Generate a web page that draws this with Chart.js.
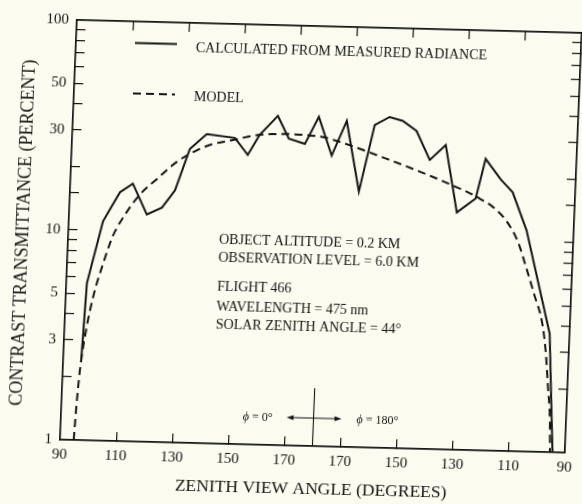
<!DOCTYPE html>
<html>
<head>
<meta charset="utf-8">
<script src="https://cdn.jsdelivr.net/npm/chart.js@4.4.1/dist/chart.umd.min.js"></script>
<style>
html,body{margin:0;padding:0;width:582px;height:504px;overflow:hidden;background:#fbfbef;}
#wrap{position:absolute;left:0;top:0;width:600px;height:520px;transform-origin:0 0;
  transform:matrix(1,0.0257,-0.0402,1,7.93,-7.8);}
canvas{display:block;background:#fbfbef;}
</style>
</head>
<body>
<div id="wrap"><canvas id="c" width="600" height="520"></canvas></div>
<script>
// Horizontal axis position: 0 = 90° (φ = 0°), 90 = 180° (zenith), 180 = 90° (φ = 180°)
const xTickLabels = ['90','110','130','150','170','170','150','130','110','90'];
const yLabelValues = [1, 3, 5, 10, 30, 50, 100];

const measuredPos = [6.4, 7.35, 12.2, 17.8, 22.3, 27.7, 33.0, 37.4, 42.1, 47.9, 58.0, 62.8, 66.8, 73.0, 77.2, 83.0, 87.6, 92.7, 97.6, 102.9, 107.6, 112.8, 117.5, 122.6, 127.7, 133.2, 138.1, 144.6, 147.6, 153.3, 157.7, 163.2, 172.9, 175.6];
const measuredVal = [2.35, 5.6, 11.1, 15.3, 16.9, 12.1, 13.1, 15.9, 25.1, 29.7, 28.7, 23.9, 29.9, 37.0, 28.9, 27.4, 37.0, 24.3, 35.7, 16.5, 34.4, 37.7, 36.3, 32.6, 23.8, 28.2, 13.5, 15.8, 24.5, 19.6, 17.1, 11.3, 3.67, 1.0];

const modelPos = [4.9, 5.3, 6.1, 7.7, 9.7, 12.8, 15.9, 20.6, 24.9, 30.8, 37.6, 42.2, 49.2, 57.3, 65.8, 72.8, 77.5, 82.8, 89.3, 95.4, 102.6, 112.4, 121.8, 129.0, 136.3, 141.3, 146.1, 150.8, 156.0, 160.2, 163.4, 167.0, 169.9, 171.7, 173.0, 174.2, 174.7];
const modelVal = [1.0, 1.39, 2.15, 3.33, 4.78, 6.94, 9.44, 12.4, 15.0, 17.9, 21.7, 23.8, 26.4, 28.0, 29.8, 30.3, 30.4, 30.2, 29.7, 28.3, 26.4, 23.8, 21.5, 19.8, 18.1, 17.0, 15.8, 14.5, 12.4, 10.0, 7.65, 5.53, 4.22, 3.05, 2.08, 1.43, 1.0];

const seriesLabels = ['CALCULATED FROM MEASURED RADIANCE', 'MODEL'];
const infoLines = ['OBJECT ALTITUDE = 0.2 KM', 'OBSERVATION LEVEL = 6.0 KM', 'FLIGHT 466', 'WAVELENGTH = 475 nm', 'SOLAR ZENITH ANGLE = 44°'];
const xTitle = 'ZENITH VIEW ANGLE (DEGREES)';
const yTitle = 'CONTRAST TRANSMITTANCE (PERCENT)';

const INK = '#141414';
const SERIF = '"Liberation Serif", "DejaVu Serif", serif';

const pts = (xs, ys) => xs.map((x, i) => ({x, y: ys[i]}));

const axisCommon = {
  border: {display: true, color: INK, width: 1.7},
  grid: {drawOnChartArea: false, drawTicks: true, tickLength: -9, color: INK, lineWidth: 1.2}
};

const annot = {
  id: 'annot',
  afterDraw(chart) {
    const ctx = chart.ctx;
    const xs = chart.scales.x;
    const ds = chart.data.datasets;
    ctx.save();
    ctx.strokeStyle = INK; ctx.fillStyle = INK; ctx.lineWidth = 2;
    // legend samples
    ctx.beginPath(); ctx.moveTo(129, 47.5); ctx.lineTo(171, 47.5); ctx.stroke();
    ctx.setLineDash([8, 5]);
    ctx.beginPath(); ctx.moveTo(129, 98); ctx.lineTo(171, 98); ctx.stroke();
    ctx.setLineDash([]);
    ctx.font = '14px ' + SERIF; ctx.textBaseline = 'middle'; ctx.textAlign = 'left';
    ctx.fillText(ds[0].label, 190, 51);
    ctx.fillText(ds[1].label, 190, 100);
    // info block
    const infoY = [242, 260, 289.5, 309, 327];
    infoLines.forEach((t, i) => ctx.fillText(t, 221, infoY[i]));
    // y-axis title
    ctx.save();
    ctx.translate(25, 240);
    ctx.rotate(-Math.PI / 2);
    ctx.textAlign = 'center';
    ctx.font = '18px ' + SERIF;
    ctx.fillText(yTitle, 0, 0);
    ctx.restore();
    // crosshair at zenith (180°)
    const cx = xs.getPixelForValue(90);
    const bottom = chart.chartArea.bottom;
    ctx.lineWidth = 1.1;
    ctx.beginPath(); ctx.moveTo(cx, 388); ctx.lineTo(cx, bottom); ctx.stroke();
    const hy = 418, hl = cx - 27, hr = cx + 28;
    ctx.beginPath(); ctx.moveTo(hl + 4, hy); ctx.lineTo(hr - 4, hy); ctx.stroke();
    ctx.beginPath(); ctx.moveTo(hl, hy); ctx.lineTo(hl + 7, hy - 2.5); ctx.lineTo(hl + 7, hy + 2.5); ctx.closePath(); ctx.fill();
    ctx.beginPath(); ctx.moveTo(hr, hy); ctx.lineTo(hr - 7, hy - 2.5); ctx.lineTo(hr - 7, hy + 2.5); ctx.closePath(); ctx.fill();
    // phi labels
    const phiLabel = (x, rest, align) => {
      ctx.font = 'italic 12px ' + SERIF;
      const w1 = ctx.measureText('ϕ').width;
      ctx.font = '12px ' + SERIF;
      const w2 = ctx.measureText(rest).width;
      const x0 = align === 'right' ? x - w1 - w2 : x;
      ctx.font = 'italic 12px ' + SERIF;
      ctx.fillText('ϕ', x0, hy + 1);
      ctx.font = '12px ' + SERIF;
      ctx.fillText(rest, x0 + w1, hy + 1);
    };
    ctx.textAlign = 'left';
    phiLabel(hl - 14, ' = 0°', 'right');
    phiLabel(hr + 15, ' = 180°', 'left');
    ctx.restore();
  }
};

new Chart(document.getElementById('c'), {
  type: 'line',
  data: {
    datasets: [
      {label: seriesLabels[0], data: pts(measuredPos, measuredVal), borderColor: INK, borderWidth: 2,
       pointRadius: 0, tension: 0, fill: false, xAxisID: 'x', yAxisID: 'y'},
      {label: seriesLabels[1], data: pts(modelPos, modelVal), borderColor: INK, borderWidth: 2,
       borderDash: [8, 5], pointRadius: 0, tension: 0.35, cubicInterpolationMode: 'monotone', fill: false, xAxisID: 'x', yAxisID: 'y'}
    ]
  },
  options: {
    responsive: false,
    animation: false,
    events: [],
    layout: {padding: 0},
    plugins: {legend: {display: false}, tooltip: {enabled: false}},
    scales: {
      x: {
        type: 'linear', position: 'bottom', min: 0, max: 180,
        ...axisCommon,
        ticks: {stepSize: 20, autoSkip: false, maxRotation: 0, padding: 15, color: INK,
                font: {family: SERIF, size: 15},
                callback: (v) => xTickLabels[Math.round(v / 20)] ?? ''},
        title: {display: true, text: xTitle, color: INK, font: {family: SERIF, size: 17.5},
                padding: {top: 0, bottom: 20}},
        afterFit: (s) => { s.height = 74; }
      },
      x2: {
        type: 'linear', position: 'top', min: 0, max: 180,
        ...axisCommon,
        ticks: {stepSize: 20, autoSkip: false, display: false},
        afterFit: (s) => { s.height = 23; }
      },
      y: {
        type: 'logarithmic', position: 'left', min: 1, max: 100,
        ...axisCommon,
        ticks: {autoSkip: false, padding: 17, color: INK, font: {family: SERIF, size: 15},
                callback: (v) => yLabelValues.includes(Number(v)) ? String(v) : ''},
        afterFit: (s) => { s.width = 70; }
      },
      y2: {
        type: 'logarithmic', position: 'right', min: 1, max: 100,
        ...axisCommon,
        ticks: {autoSkip: false, display: false},
        afterFit: (s) => { s.width = 25; }
      }
    }
  },
  plugins: [annot]
});
</script>
</body>
</html>
